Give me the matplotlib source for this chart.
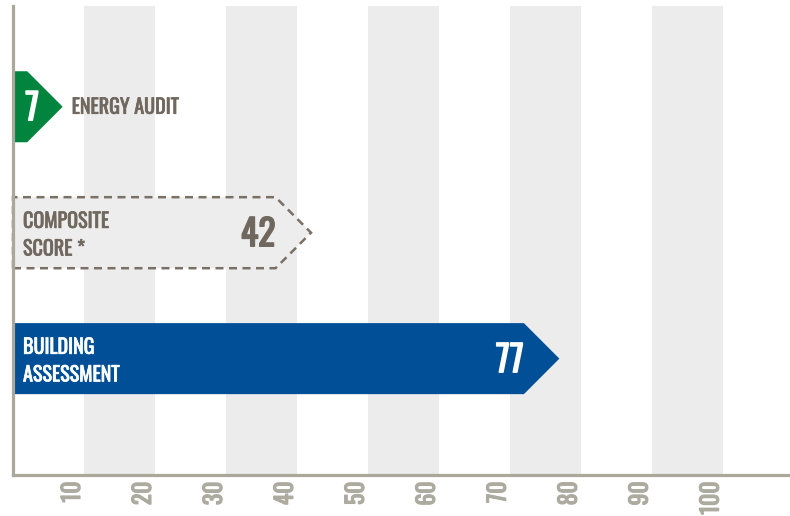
"""Score comparison chart: arrow-shaped bars on a 0-100 scale."""
import matplotlib.pyplot as plt
import matplotlib.patheffects as pe
from matplotlib.patches import Polygon

plt.rcParams['font.family'] = ['Oswald', 'IBM Plex Sans Condensed', 'DejaVu Sans']

GREEN = '#00843e'; BLUE = '#004f97'; STONE = '#70685e'; LITE = '#ebeceb'
AXIS = '#aba79b'; TICK = '#adaaa0'

# rows listed bottom to top
labels = ['BUILDING\nASSESSMENT', 'COMPOSITE\nSCORE *', 'ENERGY AUDIT']
values = [77, 42, 7]
ticks = [10, 20, 30, 40, 50, 60, 70, 80, 90, 100]
bands = [(10, 20), (30, 40), (50, 60), (70, 80), (90, 100)]


def heavy(c, w=1.0):
    # thicken the light condensed face with an outline of its own colour
    return [pe.withStroke(linewidth=w, foreground=c)]


fig = plt.figure(figsize=(7.9, 5.16), dpi=100)
ax = fig.add_axes([13/790, 41.5/516, 777/790, 468.5/516])
ax.set_xlim(0, 109.5)
ax.set_ylim(-0.92, 2.80)

for a, b in bands:
    ax.axvspan(a, b, color=LITE, lw=0, zorder=0)

H = 0.564   # bar height (y units)
D = 5.0     # arrow point depth (x units)
styles = [
    dict(fc=BLUE, ec='none', ls='-', lab_c='white', num_c='white', inside=True),
    dict(fc='#ecedec', ec='#7a7066', ls=(0, (3.2, 2.2)), lab_c=STONE, num_c=STONE, inside=True),
    dict(fc=GREEN, ec='none', ls='-', lab_c=STONE, num_c='white', inside=False),
]

for y, (lab, v, st) in enumerate(zip(labels, values, styles)):
    pts = [(0, y - H/2), (v - D, y - H/2), (v, y), (v - D, y + H/2), (0, y + H/2)]
    ax.add_patch(Polygon(pts, closed=True, fc=st['fc'], ec=st['ec'], lw=1.8,
                         ls=st['ls'], zorder=2, clip_on=False))
    nx = max(v - D, 3.7)
    ax.text(nx, y - 0.02, str(v), ha='right', va='center', fontsize=26,
            color=st['num_c'], zorder=4, path_effects=heavy(st['num_c'], 1.1))
    if st['inside']:
        ax.annotate(lab, (0, y), xytext=(10, -2), textcoords='offset pixels',
                    ha='left', va='center', fontsize=14.5, color=st['lab_c'],
                    linespacing=1.45, zorder=4, path_effects=heavy(st['lab_c'], 0.5))
    else:
        ax.annotate(lab, (v, y), xytext=(9, 0), textcoords='offset pixels',
                    ha='left', va='center', fontsize=14.5, color=st['lab_c'],
                    zorder=4, path_effects=heavy(st['lab_c'], 0.5))

ax.set_xticks(ticks)
ax.set_xticklabels([str(t) for t in ticks], rotation=90, ha='right', va='top')
ax.tick_params(axis='x', length=0, pad=5, labelsize=17, labelcolor=TICK)
for t in ax.get_xticklabels():
    t.set_path_effects(heavy(TICK, 0.9))
ax.set_yticks([])
for s in ['top', 'right']:
    ax.spines[s].set_visible(False)
for s in ['left', 'bottom']:
    ax.spines[s].set_color(AXIS)
    ax.spines[s].set_linewidth(2.3)
    ax.spines[s].set_zorder(3)

fig.savefig('out.png', dpi=100)
